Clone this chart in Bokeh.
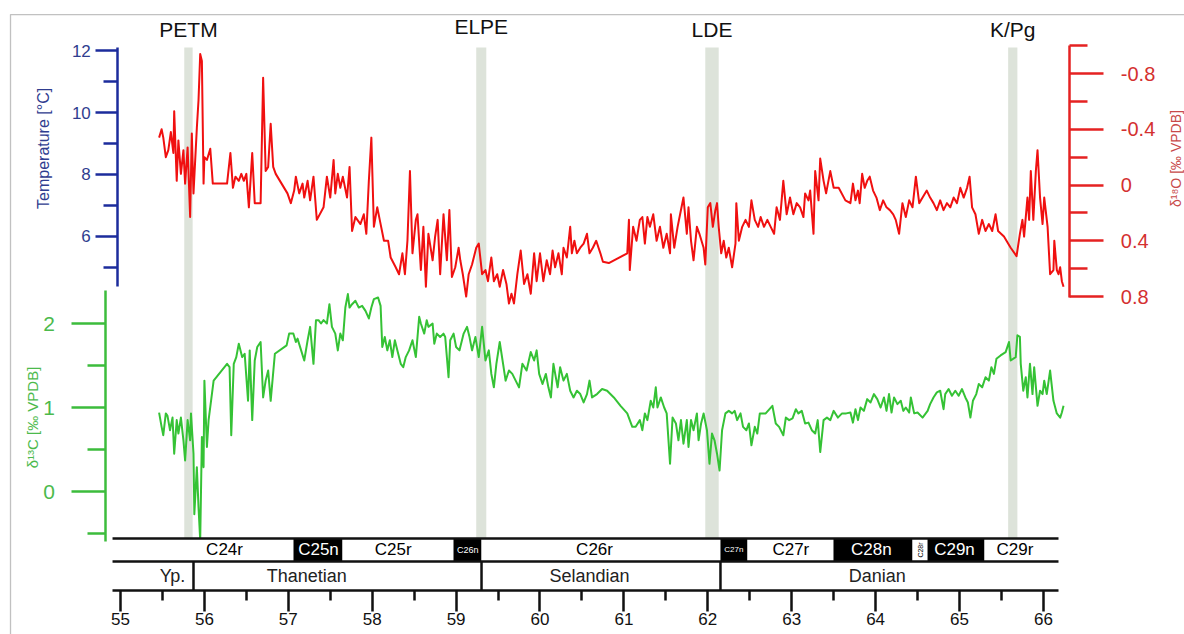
import math
from bokeh.plotting import figure
from bokeh.models import (Range1d, LinearAxis, FixedTicker, PrintfTickFormatter,
                          BoxAnnotation)
from bokeh.core.properties import value
from bokeh.embed import file_html
from bokeh.resources import INLINE

# ---------------- data ----------------
d18o_age = [
    55.46, 55.49, 55.51, 55.54, 55.57, 55.60, 55.63, 55.64, 55.67, 55.69,
    55.72, 55.75, 55.77, 55.80, 55.83, 55.85, 55.87, 55.91, 55.93, 55.95,
    55.97, 55.99, 56.00, 56.03, 56.07, 56.10, 56.27, 56.31, 56.34, 56.37,
    56.41, 56.44, 56.47, 56.50, 56.53, 56.57, 56.60, 56.67, 56.70, 56.73,
    56.76, 56.79, 56.82, 56.85, 56.99, 57.03, 57.07, 57.09, 57.13, 57.17,
    57.19, 57.23, 57.26, 57.30, 57.34, 57.42, 57.46, 57.50, 57.54, 57.56,
    57.59, 57.62, 57.65, 57.70, 57.73, 57.76, 57.80, 57.86, 57.90, 57.93,
    57.96, 57.99, 58.02, 58.06, 58.09, 58.14, 58.19, 58.22, 58.28, 58.32,
    58.36, 58.39, 58.42, 58.45, 58.48, 58.52, 58.54, 58.58, 58.61, 58.64,
    58.67, 58.72, 58.75, 58.78, 58.81, 58.85, 58.89, 58.92, 58.95, 58.99,
    59.03, 59.05, 59.08, 59.12, 59.15, 59.19, 59.24, 59.27, 59.31, 59.35,
    59.38, 59.42, 59.45, 59.49, 59.52, 59.56, 59.60, 59.63, 59.66, 59.69,
    59.73, 59.77, 59.81, 59.85, 59.89, 59.93, 59.96, 60.00, 60.04, 60.08,
    60.12, 60.15, 60.18, 60.22, 60.26, 60.28, 60.32, 60.36, 60.38, 60.41,
    60.44, 60.48, 60.52, 60.56, 60.59, 60.63, 60.67, 60.72, 60.75, 60.82,
    61.04, 61.06, 61.07, 61.11, 61.15, 61.19, 61.22, 61.25, 61.28, 61.31,
    61.35, 61.39, 61.43, 61.47, 61.51, 61.55, 61.56, 61.60, 61.64, 61.67,
    61.71, 61.75, 61.77, 61.80, 61.83, 61.87, 61.90, 61.95, 61.97, 62.00,
    62.03, 62.06, 62.09, 62.11, 62.13, 62.16, 62.19, 62.22, 62.25, 62.29,
    62.33, 62.34, 62.37, 62.41, 62.45, 62.49, 62.52, 62.56, 62.60, 62.63,
    62.67, 62.71, 62.75, 62.79, 62.82, 62.86, 62.90, 62.94, 62.98, 63.02,
    63.06, 63.10, 63.14, 63.16, 63.20, 63.22, 63.26, 63.28, 63.32, 63.34,
    63.38, 63.41, 63.46, 63.50, 63.56, 63.64, 63.70, 63.73, 63.76, 63.79,
    63.81, 63.84, 63.87, 63.90, 63.93, 63.97, 64.01, 64.05, 64.09, 64.13,
    64.17, 64.21, 64.24, 64.28, 64.32, 64.36, 64.40, 64.44, 64.48, 64.52,
    64.56, 64.61, 64.65, 64.69, 64.73, 64.77, 64.81, 64.85, 64.89, 64.93,
    64.97, 65.01, 65.05, 65.09, 65.12, 65.15, 65.19, 65.23, 65.27, 65.31,
    65.35, 65.39, 65.43, 65.46, 65.53, 65.61, 65.68, 65.72, 65.75, 65.77,
    65.81, 65.83, 65.85, 65.88, 65.91, 65.93, 65.96, 65.99, 66.01, 66.05,
    66.08, 66.12, 66.13, 66.16, 66.18, 66.20, 66.22, 66.24,
]
d18o_val = [
    -0.34, -0.40, -0.34, -0.20, -0.25, -0.38, -0.23, -0.53, -0.03, -0.32,
    -0.08, -0.25, -0.01, -0.27, 0.23, -0.37, 0.06, -0.41, -0.61, -0.94,
    -0.89, -0.01, -0.20, -0.18, -0.26, -0.01, -0.01, -0.23, 0.02, -0.06,
    -0.03, -0.08, -0.03, -0.08, 0.16, -0.23, 0.13, 0.13, -0.77, -0.10,
    -0.13, -0.44, -0.13, -0.08, 0.06, 0.13, 0.04, -0.06, 0.06, -0.01,
    0.09, -0.03, 0.11, -0.06, 0.25, 0.16, -0.06, 0.09, -0.18, 0.06,
    -0.08, 0.02, -0.06, 0.09, -0.13, 0.33, 0.23, 0.28, 0.21, 0.35,
    -0.03, -0.34, 0.30, 0.16, 0.25, 0.40, 0.40, 0.52, 0.59, 0.64,
    0.49, 0.64, 0.40, -0.10, 0.49, 0.25, 0.21, 0.61, 0.30, 0.73,
    0.35, 0.54, 0.37, 0.25, 0.64, 0.21, 0.54, 0.18, 0.66, 0.59,
    0.45, 0.54, 0.64, 0.80, 0.64, 0.57, 0.45, 0.42, 0.64, 0.61,
    0.69, 0.52, 0.69, 0.64, 0.73, 0.61, 0.71, 0.85, 0.78, 0.85,
    0.64, 0.47, 0.71, 0.64, 0.78, 0.49, 0.69, 0.49, 0.69, 0.54,
    0.64, 0.47, 0.59, 0.49, 0.64, 0.45, 0.52, 0.30, 0.49, 0.40,
    0.49, 0.45, 0.42, 0.35, 0.49, 0.45, 0.40, 0.49, 0.55, 0.56,
    0.49, 0.25, 0.61, 0.30, 0.40, 0.25, 0.23, 0.42, 0.23, 0.30,
    0.21, 0.40, 0.30, 0.45, 0.35, 0.49, 0.21, 0.45, 0.30, 0.21,
    0.09, 0.35, 0.16, 0.40, 0.54, 0.30, 0.35, 0.45, 0.57, 0.16,
    0.13, 0.30, 0.18, 0.13, 0.30, 0.49, 0.40, 0.52, 0.45, 0.59,
    0.42, 0.13, 0.40, 0.30, 0.25, 0.30, 0.11, 0.25, 0.30, 0.23,
    0.30, 0.25, 0.30, 0.35, 0.16, 0.25, -0.03, 0.21, 0.09, 0.21,
    0.13, 0.16, 0.23, 0.06, 0.11, 0.04, 0.35, -0.10, 0.11, -0.19,
    -0.03, 0.06, -0.10, 0.02, 0.02, 0.11, 0.13, -0.01, 0.11, 0.04,
    0.13, -0.08, 0.02, -0.03, -0.06, 0.04, 0.09, 0.18, 0.11, 0.16,
    0.18, 0.21, 0.25, 0.35, 0.13, 0.23, 0.11, 0.16, -0.06, 0.13,
    0.09, 0.04, 0.09, 0.13, 0.18, 0.11, 0.18, 0.13, 0.16, 0.09,
    0.13, 0.02, 0.09, 0.02, -0.06, 0.16, 0.21, 0.35, 0.25, 0.33,
    0.28, 0.33, 0.21, 0.33, 0.37, 0.45, 0.51, 0.35, 0.25, 0.37,
    0.09, 0.25, -0.10, 0.25, -0.10, -0.25, 0.09, 0.28, 0.09, 0.30,
    0.64, 0.61, 0.40, 0.61, 0.64, 0.59, 0.69, 0.73,
]

d13c_age = [
    55.46, 55.49, 55.51, 55.54, 55.56, 55.59, 55.62, 55.64, 55.67, 55.69,
    55.72, 55.75, 55.77, 55.80, 55.83, 55.84, 55.87, 55.88, 55.91, 55.93,
    55.95, 55.97, 55.99, 56.00, 56.03, 56.05, 56.11, 56.27, 56.30, 56.32,
    56.35, 56.38, 56.41, 56.45, 56.48, 56.52, 56.54, 56.57, 56.60, 56.63,
    56.67, 56.70, 56.73, 56.76, 56.79, 56.84, 56.98, 57.01, 57.06, 57.09,
    57.11, 57.19, 57.23, 57.26, 57.30, 57.33, 57.36, 57.39, 57.42, 57.46,
    57.49, 57.52, 57.56, 57.59, 57.62, 57.65, 57.68, 57.71, 57.73, 57.76,
    57.80, 57.84, 57.88, 57.92, 57.96, 57.99, 58.02, 58.07, 58.10, 58.12,
    58.15, 58.18, 58.21, 58.24, 58.27, 58.31, 58.34, 58.37, 58.40, 58.44,
    58.48, 58.52, 58.56, 58.58, 58.62, 58.65, 58.67, 58.72, 58.74, 58.77,
    58.81, 58.85, 58.87, 58.91, 58.93, 58.97, 59.00, 59.04, 59.05, 59.09,
    59.13, 59.16, 59.19, 59.23, 59.27, 59.31, 59.35, 59.39, 59.42, 59.45,
    59.48, 59.52, 59.56, 59.59, 59.63, 59.67, 59.71, 59.75, 59.79, 59.84,
    59.89, 59.93, 59.96, 59.99, 60.03, 60.07, 60.10, 60.13, 60.16, 60.21,
    60.24, 60.28, 60.32, 60.36, 60.40, 60.44, 60.48, 60.52, 60.56, 60.59,
    60.62, 60.68, 60.74, 60.80, 60.88, 60.96, 61.04, 61.10, 61.14, 61.19,
    61.22, 61.25, 61.28, 61.32, 61.35, 61.38, 61.40, 61.44, 61.48, 61.51,
    61.55, 61.58, 61.62, 61.65, 61.68, 61.71, 61.75, 61.77, 61.80, 61.83,
    61.87, 61.89, 61.92, 61.95, 61.99, 62.02, 62.05, 62.08, 62.11, 62.14,
    62.17, 62.21, 62.25, 62.29, 62.32, 62.35, 62.39, 62.42, 62.46, 62.49,
    62.52, 62.56, 62.59, 62.62, 62.69, 62.77, 62.81, 62.85, 62.90, 62.93,
    62.97, 63.01, 63.05, 63.08, 63.12, 63.16, 63.20, 63.24, 63.28, 63.31,
    63.34, 63.38, 63.42, 63.46, 63.50, 63.55, 63.60, 63.65, 63.70, 63.73,
    63.76, 63.79, 63.82, 63.86, 63.90, 63.94, 63.98, 64.02, 64.06, 64.10,
    64.13, 64.16, 64.19, 64.22, 64.26, 64.30, 64.33, 64.36, 64.40, 64.42,
    64.46, 64.50, 64.56, 64.62, 64.65, 64.69, 64.73, 64.77, 64.81, 64.83,
    64.87, 64.91, 64.95, 64.99, 65.03, 65.07, 65.10, 65.13, 65.16, 65.20,
    65.23, 65.27, 65.31, 65.35, 65.38, 65.41, 65.44, 65.49, 65.55, 65.59,
    65.61, 65.67, 65.69, 65.72, 65.73, 65.76, 65.79, 65.81, 65.84, 65.87,
    65.89, 65.93, 65.96, 65.99, 66.01, 66.04, 66.08, 66.12, 66.16, 66.20,
    66.22, 66.24,
]
d13c_val = [
    0.94, 0.77, 0.67, 0.93, 0.90, 0.73, 0.88, 0.45, 0.85, 0.69,
    0.88, 0.61, 0.37, 0.85, 0.61, 0.93, 0.45, -0.27, 0.29, -0.19,
    -0.58, 0.65, 0.29, 1.32, 0.53, 0.85, 1.32, 1.52, 1.48, 0.67,
    1.52, 1.60, 1.76, 1.60, 1.64, 1.08, 1.68, 0.85, 1.56, 1.72,
    1.78, 1.12, 1.32, 1.44, 1.08, 1.64, 1.74, 1.88, 1.88, 1.78,
    1.82, 1.56, 1.80, 1.96, 1.52, 2.04, 2.04, 2.00, 2.04, 2.00,
    2.23, 1.96, 1.88, 1.68, 1.88, 1.80, 2.19, 2.35, 2.19, 2.23,
    2.27, 2.19, 2.21, 2.15, 2.06, 2.19, 2.29, 2.31, 2.21, 1.72,
    1.84, 1.68, 1.80, 1.60, 1.80, 1.64, 1.52, 1.48, 1.60, 1.68,
    1.80, 1.60, 2.08, 2.00, 1.88, 2.04, 1.96, 2.00, 1.76, 1.88,
    1.84, 1.88, 1.84, 1.36, 1.80, 1.88, 1.72, 1.68, 1.72, 1.88,
    1.96, 1.84, 1.68, 1.84, 1.60, 1.96, 1.56, 1.68, 1.40, 1.24,
    1.52, 1.78, 1.52, 1.32, 1.44, 1.40, 1.32, 1.24, 1.52, 1.44,
    1.66, 1.56, 1.68, 1.40, 1.28, 1.40, 1.24, 1.12, 1.52, 1.24,
    1.48, 1.32, 1.40, 1.20, 1.12, 1.20, 1.16, 1.06, 1.16, 1.32,
    1.12, 1.16, 1.22, 1.20, 1.12, 1.02, 0.93, 0.77, 0.77, 0.85,
    0.73, 0.93, 0.85, 1.08, 1.00, 1.24, 1.00, 1.12, 1.00, 0.93,
    0.33, 0.88, 0.81, 0.61, 0.85, 0.57, 0.85, 0.53, 0.85, 0.73,
    0.93, 0.61, 0.81, 0.93, 0.73, 0.33, 0.69, 0.61, 0.45, 0.25,
    0.73, 0.93, 0.96, 0.93, 0.96, 0.85, 0.93, 0.77, 0.73, 0.81,
    0.55, 0.77, 0.69, 0.93, 0.93, 1.02, 0.81, 0.77, 0.67, 0.88,
    0.85, 0.87, 0.98, 0.93, 0.96, 0.81, 0.82, 0.73, 0.69, 0.85,
    0.47, 0.85, 0.88, 0.85, 0.96, 0.88, 0.93, 0.93, 0.94, 0.82,
    0.98, 0.85, 1.00, 0.96, 1.10, 1.06, 1.16, 1.10, 1.00, 1.12,
    0.96, 1.16, 0.94, 1.12, 1.04, 1.08, 0.96, 1.00, 0.94, 1.12,
    0.93, 0.94, 0.88, 0.96, 1.04, 1.12, 1.18, 1.20, 0.98, 1.16,
    1.22, 1.14, 1.20, 1.14, 1.22, 1.12, 1.06, 0.88, 1.08, 1.16,
    1.28, 1.24, 1.36, 1.32, 1.48, 1.40, 1.58, 1.62, 1.66, 1.78,
    1.56, 1.60, 1.86, 1.84, 1.52, 1.20, 1.36, 1.12, 1.52, 1.16,
    1.48, 1.02, 1.20, 1.16, 1.32, 1.16, 1.44, 1.08, 0.93, 0.88,
    0.94, 1.02,
]

temp_ticks = [6, 8, 10, 12]
temp_minor = [5, 7, 9, 11]
d18o_ticks = [-0.8, -0.4, 0, 0.4, 0.8]
d18o_minor = [-1.0, -0.6, -0.2, 0.2, 0.6]
d13c_ticks = [0, 1, 2]
d13c_minor = [-0.5, 0.5, 1.5]
age_ticks = [55, 56, 57, 58, 59, 60, 61, 62, 63, 64, 65, 66]
age_minor = [55.5, 56.5, 57.5, 58.5, 59.5, 60.5, 61.5, 62.5, 63.5, 64.5, 65.5]

event_names = ["PETM", "ELPE", "LDE", "K/Pg"]
event_start = [55.76, 59.24, 61.97, 65.58]
event_end = [55.86, 59.36, 62.13, 65.69]

chron_names = ["C24r", "C25n", "C25r", "C26n", "C26r", "C27n", "C27r", "C28n", "C28r", "C29n", "C29r"]
chron_start = [54.905, 57.062, 57.646, 58.969, 59.303, 62.151, 62.473, 63.498, 64.440, 64.619, 65.298]
chron_end = [57.062, 57.646, 58.969, 59.303, 62.151, 62.473, 63.498, 64.440, 64.619, 65.298, 66.180]
chron_normal = [False, True, False, True, False, True, False, True, False, True, False]
chron_label_x = [56.24, 57.36, 58.25, 59.14, 60.65, 62.31, 62.99, 63.95, 64.53, 64.94, 65.66]

stage_names = ["Yp.", "Thanetian", "Selandian", "Danian"]
stage_start = [54.905, 55.870, 59.303, 62.151]
stage_end = [55.870, 59.303, 62.151, 66.180]
stage_label_x = [55.62, 57.22, 60.59, 64.02]

# ---------------- styling ----------------
FONT = "Liberation Sans"
BLUE, BLUE_TXT = "#1c2c9c", "#2f3d8f"
GREEN, GREEN_TXT, GREEN_LINE = "#3cbc3c", "#4cba4c", "#35c235"
RED, RED_TXT, RED_LINE = "#e52222", "#d43030", "#f01010"
BAND = "#dde3da"

# layout (track units: chron bar 0..1, stage bar 0..-1.261)
CHRON_TOP, CHRON_BOT, STAGE_BOT = 1.0, 0.0, -1.261
BAND_TOP = 22.35

p = figure(width=1184, height=634,
           x_range=Range1d(53.5697, 67.6818), y_range=Range1d(-3.174, 24.391),
           x_axis_location=None, y_axis_location=None,
           toolbar_location=None, output_backend="svg",
           min_border=0, outline_line_color=None,
           background_fill_color="white", border_fill_color="white")
p.grid.visible = False
p.extra_y_ranges = {
    "temp": Range1d(-6.839, 13.613),
    "d18o": Range1d(3.2245, -1.3237),
    "d13c": Range1d(-1.702, 5.845),
}

# outer frame
p.add_layout(BoxAnnotation(left=53.689, right=68.5, top=23.78, bottom=-5,
                           fill_alpha=0, line_color="#333333", line_width=1.3))

# event bands
p.quad(left=event_start, right=event_end, bottom=CHRON_TOP, top=BAND_TOP,
       fill_color=BAND, line_color=None)

# curves
p.line(d18o_age, d18o_val, y_range_name="d18o", line_color=RED_LINE,
       line_width=2, line_join="round")
p.line(d13c_age, d13c_val, y_range_name="d13c", line_color=GREEN_LINE,
       line_width=2, line_join="round")

# event labels
ev_x = [(a + b) / 2 for a, b in zip(event_start, event_end)]
ev_y = [23.13, 23.28, 23.15, 23.11]
p.text(x=ev_x, y=ev_y, text=event_names, text_align="center", text_baseline="middle",
       text_font=value(FONT), text_font_size="21px", text_color="#111111")

# chron bar
p.quad(left=chron_start, right=chron_end, bottom=CHRON_BOT, top=CHRON_TOP,
       fill_color=["black" if n else "white" for n in chron_normal], line_color=None)
small = {"C26n": "9px", "C27n": "8px", "C28r": "7px"}
p.text(x=chron_label_x, y=[0.5] * len(chron_names), text=chron_names,
       text_color=["white" if n else "black" for n in chron_normal],
       text_font_size=[small.get(c, "17px") for c in chron_names],
       angle=[math.pi / 2 if c == "C28r" else 0 for c in chron_names],
       text_align="center", text_baseline="middle", text_font=value(FONT))
p.segment(x0=chron_start[0], x1=chron_end[-1], y0=[CHRON_TOP, CHRON_BOT], y1=[CHRON_TOP, CHRON_BOT],
          line_color="#111111", line_width=2.5)

# stage bar
p.segment(x0=stage_start[1:], x1=stage_start[1:], y0=CHRON_BOT, y1=STAGE_BOT,
          line_color="#111111", line_width=2.5)
p.text(x=stage_label_x, y=[(CHRON_BOT + STAGE_BOT) / 2] * len(stage_names), text=stage_names,
       text_align="center", text_baseline="middle", text_font=value(FONT),
       text_font_size="18px", text_color="#222222")


def style_axis(ax, color, label_color, size, standoff, maj, mnr, lw):
    ax.axis_line_color = color
    ax.axis_line_width = lw
    ax.major_tick_line_color = color
    ax.major_tick_line_width = lw
    ax.minor_tick_line_color = color
    ax.minor_tick_line_width = lw
    ax.major_tick_in = 0
    ax.major_tick_out = maj
    ax.minor_tick_in = 0
    ax.minor_tick_out = mnr
    ax.major_label_text_color = label_color
    ax.major_label_text_font_size = size
    ax.major_label_text_font = FONT
    ax.major_label_standoff = standoff
    ax.formatter = PrintfTickFormatter(format="%g")


# temperature axis (left, blue)
ax_t = LinearAxis(y_range_name="temp", fixed_location=54.968, bounds=(4.4, 12.1),
                  ticker=FixedTicker(ticks=temp_ticks, minor_ticks=temp_minor))
style_axis(ax_t, BLUE, BLUE_TXT, "17px", 5, 22, 14, 2.5)
p.add_layout(ax_t, "left")

# d13C axis (left, green)
ax_c = LinearAxis(y_range_name="d13c", fixed_location=54.825, bounds=(-0.6, 2.39),
                  ticker=FixedTicker(ticks=d13c_ticks, minor_ticks=d13c_minor))
style_axis(ax_c, GREEN, GREEN_TXT, "21px", 17, 34, 18, 2.5)
p.add_layout(ax_c, "left")

# d18O axis (right, red)
ax_o = LinearAxis(y_range_name="d18o", fixed_location=66.315, bounds=(-1.0, 0.81),
                  ticker=FixedTicker(ticks=d18o_ticks, minor_ticks=d18o_minor))
style_axis(ax_o, RED, RED_TXT, "20px", 17, 34, 18, 2.5)
p.add_layout(ax_o, "right")

# age axis (bottom)
ax_x = LinearAxis(fixed_location=STAGE_BOT, bounds=(chron_start[0], chron_end[-1]),
                  ticker=FixedTicker(ticks=age_ticks, minor_ticks=age_minor))
style_axis(ax_x, "#111111", "#111111", "17px", 1, 21, 10, 2.5)
p.add_layout(ax_x, "below")

# axis titles
p.text(x=[54.082], y=[17.96], text=["Temperature [°C]"], angle=math.pi / 2,
       text_align="center", text_baseline="middle", text_font=value(FONT),
       text_font_size="16px", text_color=BLUE_TXT)
p.text(x=[53.951], y=[6.26], text=["δ¹³C [‰ VPDB]"], angle=math.pi / 2,
       text_align="center", text_baseline="middle", text_font=value(FONT),
       text_font_size="15px", text_color=GREEN_TXT)
p.text(x=[67.575], y=[17.52], text=["δ¹⁸O [‰ VPDB]"], angle=math.pi / 2,
       text_align="center", text_baseline="middle", text_font=value(FONT),
       text_font_size="14px", text_color="#c84a4a")

open("out.html", "w").write(file_html(p, INLINE))
